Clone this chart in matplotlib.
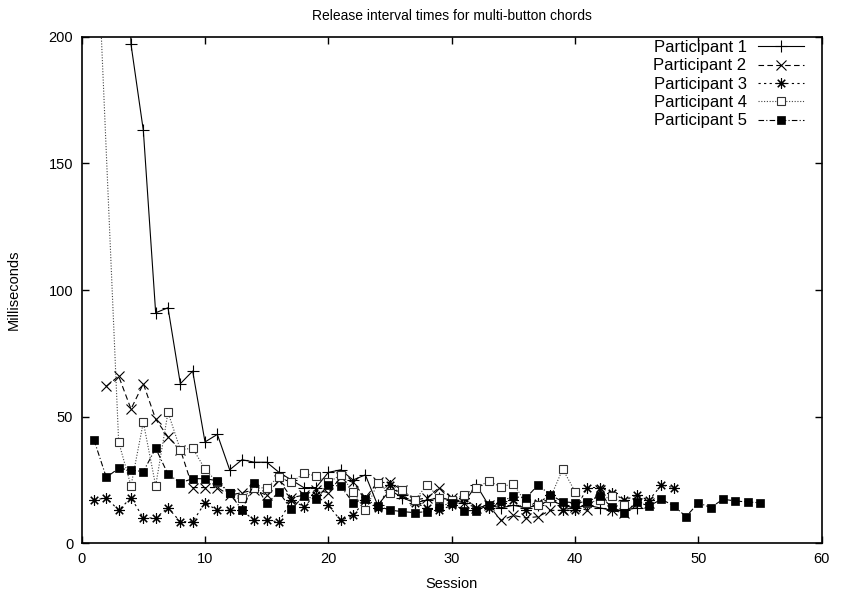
import matplotlib
matplotlib.use("Agg")
import matplotlib.pyplot as plt

plt.rcParams['font.family'] = ['Liberation Sans', 'DejaVu Sans']

# ---- data ----
p1_sessions = list(range(1, 46))
p1_values = [900, 600, 350, 197, 163, 91, 93, 63, 68, 40,
             43, 29, 33, 32, 32, 28, 25, 22, 22, 28,
             29, 25, 27, 15, 21, 18, 16, 17, 18, 17,
             16, 23, 15, 14, 15, 14, 15, 17, 15, 14,
             15, 14, 13, 13, 14]

p2_sessions = list(range(2, 47))
p2_values = [62, 66, 53, 63, 49, 42, 37, 22, 22, 22,
             19, 20, 21, 19, 25, 18, 19, 21, 20, 26,
             24, 18, 24, 24, 21, 17, 18, 22, 18, 16,
             14, 15, 9, 11, 10, 10.5, 13, 13, 14.5, 13,
             21, 13, 12, 16, 16]

p3_sessions = list(range(1, 49))
p3_values = [17, 18, 13, 18, 10, 10, 14, 8.5, 8.5, 16,
             13, 13, 13, 9, 9, 8.5, 17, 14.5, 19, 15,
             9, 11, 17, 14, 23, 19, 16, 14, 13, 15,
             18, 14, 14, 16, 17, 13, 16, 19, 13, 13,
             22, 22, 20, 17, 19, 17, 23, 22]

p4_sessions = [1] + list(range(3, 45))
p4_values = [268, 40, 22.7, 47.8, 22.7, 51.7, 37, 37.5, 29.3, 24,
             20, 18, 21.7, 22, 26.3, 24, 27.6, 26.6, 24, 27,
             20.4, 13, 23.7, 20, 21, 17, 23, 18, 17, 19,
             22, 24.5, 22.3, 23.5, 16, 15, 18, 29.3, 20.4, 16,
             17, 18.7, 15]

p5_sessions = list(range(1, 56))
p5_values = [40.8, 26, 29.6, 28.9, 28.3, 37.5, 27.3, 23.9, 25.5, 25.5,
             24.7, 19.8, 13.1, 23.7, 15.8, 20.2, 13.4, 18.7, 17.4, 23,
             22.6, 16, 17.4, 14.7, 13.1, 12.5, 12.1, 12.5, 14.5, 16,
             12.9, 12.9, 15.1, 16.6, 18.5, 17.8, 23, 19.1, 16.4, 16,
             16.4, 18.7, 14.2, 12.1, 16.4, 14.7, 17.4, 14.8, 10.5, 16,
             14.1, 17.4, 16.7, 16.3, 16]

labels = ["Participant 1", "Participant 2", "Participant 3",
          "Participant 4", "Participant 5"]

x_ticks = [0, 10, 20, 30, 40, 50, 60]
y_ticks = [0, 50, 100, 150, 200]

# ---- figure ----
fig = plt.figure(figsize=(8.41, 5.98), dpi=100)
ax = fig.add_axes([0.0971, 0.0915, 0.8800, 0.8471])

lw = 0.8
ax.plot(p1_sessions, p1_values, color='black', lw=lw, ls='-',
        marker='+', ms=8, mew=0.8, label=labels[0])
ax.plot(p2_sessions, p2_values, color='black', lw=lw, ls=(0, (5, 3)),
        marker='x', ms=6.5, mew=0.8, label=labels[1])
ax.plot(p3_sessions, p3_values, color='black', lw=lw, ls=(0, (2, 3)),
        marker=(8, 2, 0), ms=7.5, mew=0.8, label=labels[2])
ax.plot(p4_sessions, p4_values, color='#444444', lw=lw, ls=(0, (1, 1.5)),
        marker='s', ms=6.2, mew=0.8, mfc='white', mec='#333333', label=labels[3])
ax.plot(p5_sessions, p5_values, color='black', lw=lw, ls=(0, (5, 2, 1, 2)),
        marker='s', ms=6.2, mew=0.5, mfc='black', mec='black', label=labels[4])

ax.set_xlim(0, 60)
ax.set_ylim(0, 200)
ax.set_xticks(x_ticks)
ax.set_yticks(y_ticks)
ax.tick_params(direction='in', top=True, right=True, length=5, width=1,
               labelsize=10.5, pad=6)
for sp in ax.spines.values():
    sp.set_linewidth(1.2)

ax.set_xlabel("Session", fontsize=10.5, labelpad=8)
ax.set_ylabel("Milliseconds", fontsize=10.5, labelpad=20)
ax.set_title("Release interval times for multi-button chords", fontsize=10, pad=12)

leg = ax.legend(loc='upper right', bbox_to_anchor=(804 / 841, 1 - 40 / 598),
                bbox_transform=fig.transFigure, frameon=False, markerfirst=False,
                fontsize=12, handlelength=2.75, labelspacing=0.2,
                borderaxespad=0, borderpad=0, handletextpad=0.7)

fig.savefig("out.png", dpi=100)
